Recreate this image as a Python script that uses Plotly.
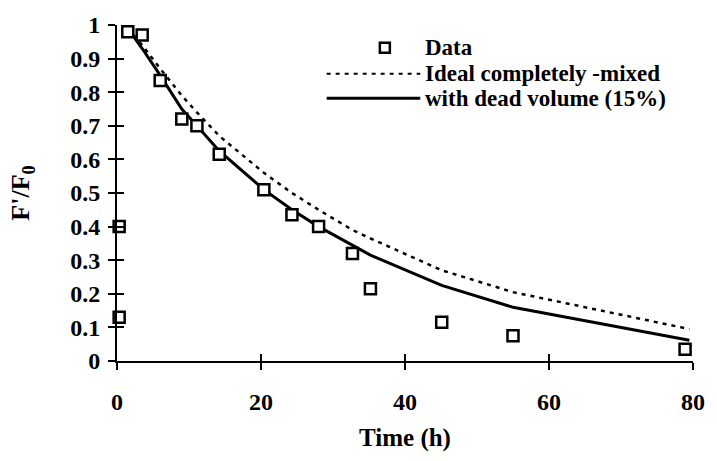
import plotly.graph_objects as go

# Data
t_data = [0.3, 0.3, 1.5, 3.5, 6.0, 9.0, 11.1, 14.2, 20.4, 24.3, 28.0, 32.7, 35.2, 45.1, 55.0, 78.9]
f_data = [0.13, 0.40, 0.98, 0.97, 0.835, 0.72, 0.70, 0.615, 0.51, 0.435, 0.40, 0.32, 0.215, 0.115, 0.075, 0.035]

t_model = [1.5, 3.5, 6.0, 9.0, 11.1, 14.2, 20.4, 24.3, 28.0, 32.7, 35.2, 45.1, 55.0, 79.5]
f_ideal = [0.99, 0.94, 0.87, 0.79, 0.74, 0.67, 0.56, 0.50, 0.45, 0.39, 0.365, 0.27, 0.205, 0.095]
f_dead = [0.99, 0.93, 0.85, 0.75, 0.70, 0.625, 0.51, 0.45, 0.40, 0.345, 0.315, 0.225, 0.16, 0.062]

x_ticks = [0, 20, 40, 60, 80]
y_ticks = [0, 0.1, 0.2, 0.3, 0.4, 0.5, 0.6, 0.7, 0.8, 0.9, 1]
y_ticktext = ["0", "0.1", "0.2", "0.3", "0.4", "0.5", "0.6", "0.7", "0.8", "0.9", "1"]

legend_labels = ["Data", "Ideal completely -mixed", "with dead volume (15%)"]

FONT = "Liberation Serif"

fig = go.Figure()
fig.add_trace(go.Scatter(x=t_model, y=f_ideal, mode="lines",
                         line=dict(color="black", width=2.5, dash="4px,5px"),
                         showlegend=False, cliponaxis=False))
fig.add_trace(go.Scatter(x=t_model, y=f_dead, mode="lines",
                         line=dict(color="black", width=3),
                         showlegend=False, cliponaxis=False))
fig.add_trace(go.Scatter(x=t_data, y=f_data, mode="markers",
                         marker=dict(symbol="square", size=11, color="white",
                                     line=dict(color="black", width=2.5)),
                         showlegend=False, cliponaxis=False))
# invisible trace to activate the overlay axes for crossing ticks
fig.add_trace(go.Scatter(x=[0], y=[0], xaxis="x2", yaxis="y2", mode="markers",
                         marker=dict(opacity=0), showlegend=False, hoverinfo="skip"))

tickfont = dict(family=FONT, size=24, color="black", weight="bold")
axis_common = dict(showgrid=False, zeroline=False, linecolor="black", linewidth=2,
                   ticks="outside", tickcolor="black", tickwidth=2, ticklen=7,
                   tickfont=tickfont)

fig.update_layout(
    width=717, height=461,
    margin=dict(l=117, r=15, t=22, b=100),
    paper_bgcolor="white", plot_bgcolor="white",
    xaxis=dict(range=[0, 80], tickvals=x_ticks, showline=True,
               ticklabelstandoff=11,
               title=dict(text="<b>Time (h)</b>", font=dict(family=FONT, size=25, color="black"),
                          standoff=15),
               **axis_common),
    yaxis=dict(range=[0, 1], tickvals=y_ticks, ticktext=y_ticktext, showline=True,
               ticklabelstandoff=3,
               title=dict(text="<b>F'/F<sub>0</sub></b>", font=dict(family=FONT, size=26, color="black"),
                          standoff=33),
               **axis_common),
    xaxis2=dict(range=[0, 80], tickvals=x_ticks, overlaying="x", anchor="y2", side="bottom",
                showgrid=False, zeroline=False, showline=False, showticklabels=False,
                ticks="inside", ticklen=7, tickwidth=2, tickcolor="black"),
    yaxis2=dict(range=[0, 1], tickvals=y_ticks, overlaying="y", anchor="x2", side="left",
                showgrid=False, zeroline=False, showline=False, showticklabels=False,
                ticks="inside", ticklen=7, tickwidth=2, tickcolor="black"),
)

# Manual legend
leg_y = [0.932, 0.855, 0.782]
for label, yy in zip(legend_labels, leg_y):
    fig.add_annotation(x=0.5316, y=yy, xref="paper", yref="paper", text=label,
                       showarrow=False, xanchor="left", yanchor="middle",
                       font=dict(family=FONT, size=23, color="black", weight="bold"))
fig.add_shape(type="rect", xref="paper", yref="paper", xsizemode="pixel", ysizemode="pixel",
              xanchor=0.465, yanchor=leg_y[0], x0=-5, x1=5, y0=-5, y1=5,
              line=dict(color="black", width=2.5), fillcolor="white")
fig.add_shape(type="line", xref="paper", yref="paper", x0=0.364, x1=0.5265,
              y0=leg_y[1], y1=leg_y[1], line=dict(color="black", width=2, dash="4px,5px"))
fig.add_shape(type="line", xref="paper", yref="paper", x0=0.364, x1=0.5265,
              y0=leg_y[2], y1=leg_y[2], line=dict(color="black", width=3))

fig.write_html("out.html")
